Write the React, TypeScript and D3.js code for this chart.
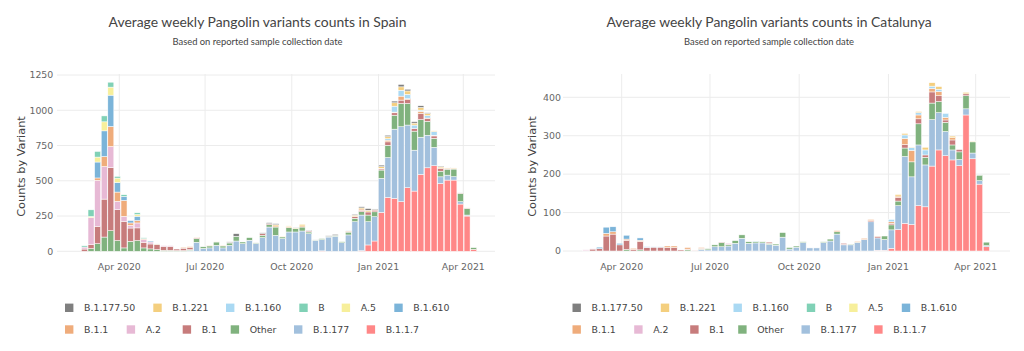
import React from "react";
import * as d3 from "d3";

// ---------- data ----------
const WEEKS = [
  "2020-02-24","2020-03-02","2020-03-09","2020-03-16","2020-03-23","2020-03-30","2020-04-06","2020-04-13","2020-04-20","2020-04-27",
  "2020-05-04","2020-05-11","2020-05-18","2020-05-25","2020-06-01","2020-06-08","2020-06-15","2020-06-22","2020-06-29","2020-07-06",
  "2020-07-13","2020-07-20","2020-07-27","2020-08-03","2020-08-10","2020-08-17","2020-08-24","2020-08-31","2020-09-07","2020-09-14",
  "2020-09-21","2020-09-28","2020-10-05","2020-10-12","2020-10-19","2020-10-26","2020-11-02","2020-11-09","2020-11-16","2020-11-23",
  "2020-11-30","2020-12-07","2020-12-14","2020-12-21","2020-12-28","2021-01-04","2021-01-11","2021-01-18","2021-01-25","2021-02-01",
  "2021-02-08","2021-02-15","2021-02-22","2021-03-01","2021-03-08","2021-03-15","2021-03-22","2021-03-29","2021-04-05","2021-04-12",
];

// stacking order (bottom -> top)
const VARIANTS = ["B.1.1.7","B.1.177","Other","B.1","A.2","B.1.1","B.1.610","A.5","B","B.1.160","B.1.221","B.1.177.50"];
const VARIANT_COLORS = ["#ff8787","#a2c0dd","#80b27e","#c77c7c","#e7b9d5","#efac7b","#7bb4d9","#f7ef9b","#80d1b6","#aad9f3","#f4cf7f","#7f7f7f"];

const LEGEND_ROW1 = ["B.1.177.50","B.1.221","B.1.160","B","A.5","B.1.610"];
const LEGEND_ROW2 = ["B.1.1","A.2","B.1","Other","B.1.177","B.1.1.7"];

const X_TICKS = ["2020-04-01","2020-07-01","2020-10-01","2021-01-01","2021-04-01"];
const ES_Y_TICKS = [0,250,500,750,1000,1250];
const CA_Y_TICKS = [0,100,200,300,400];

// Spain
const ES_B117 = [0,0,0,0,0,0,0,0,0,0, 0,0,0,0,0,0,0,0,0,0, 0,0,0,0,0,0,0,0,0,0, 0,0,0,0,0,0,3,0,0,0, 0,0,4,45,73,276,382,375,352,451, 427,545,592,607,481,505,505,335,250,14];
const ES_B1177 = [0,0,0,0,0,0,0,0,0,0, 0,0,0,0,0,0,6,64,20,24, 42,24,42,73,54,78,54,97,172,113, 90,137,137,144,125,78,80,101,106,61, 116,210,253,165,172,241,283,491,531,444, 290,264,231,130,47,35,24,17,7,0];
const ES_OTHER = [0,19,54,101,146,76,24,71,76,24, 17,12,7,7,5,5,6,26,12,14, 24,14,17,33,12,19,5,17,17,59, 12,31,24,28,12,3,7,5,7,7, 20,24,24,47,35,59,87,99,165,153, 135,125,99,64,40,42,54,59,47,12];
const ES_B1 = [16,28,123,269,448,219,189,94,90,40, 35,38,28,28,11,17,14,5,0,0, 0,0,4,0,0,0,0,12,7,0, 0,0,0,0,7,0,0,0,0,0, 5,12,9,22,12,8,24,17,24,28, 19,42,19,17,19,5,4,3,3,0];
const ES_A2 = [14,191,326,231,149,59,35,19,35,20, 14,0,5,5,0,0,0,0,0,0, 0,0,0,0,0,0,0,0,0,0, 0,0,0,0,0,0,0,0,0,0, 0,0,0,0,0,0,0,0,0,0, 0,0,0,0,0,0,0,0,0,0];
const ES_B11 = [0,0,17,71,142,66,113,17,17,6, 0,0,0,0,0,6,7,5,0,5, 2,5,0,0,0,0,0,0,0,8, 0,6,0,8,0,0,0,0,0,0, 4,0,10,0,0,5,12,5,28,6, 0,17,4,5,5,0,0,0,0,0];
const ES_B1610 = [0,0,113,182,222,68,28,17,31,0, 7,0,0,0,0,0,0,0,0,0, 0,0,0,0,0,0,0,0,0,0, 0,0,0,0,0,0,0,0,0,0, 0,0,0,0,0,0,0,0,0,0, 0,0,0,0,0,0,0,0,0,0];
const ES_A5 = [0,9,35,64,57,31,0,0,12,0, 0,3,0,0,0,0,0,0,0,0, 0,0,0,0,0,0,0,0,0,0, 0,0,0,0,0,0,0,0,0,0, 0,0,0,0,0,0,0,0,0,0, 0,0,0,0,0,0,0,0,0,0];
const ES_B = [9,47,40,42,35,12,12,0,12,6, 0,4,0,0,0,0,0,0,0,0, 0,0,0,0,0,0,0,0,0,0, 0,0,0,0,0,0,0,0,0,0, 0,0,0,0,0,0,0,0,0,0, 0,0,0,0,0,0,0,0,0,0];
const ES_B1160 = [0,0,0,0,0,0,0,0,0,0, 0,0,0,0,0,0,0,0,0,0, 0,0,0,0,0,0,0,0,0,0, 0,0,0,0,0,0,0,0,0,0, 5,0,0,0,0,0,10,42,42,31, 24,8,17,26,0,0,0,0,0,0];
const ES_B1221 = [0,0,0,0,0,0,0,0,0,0, 0,0,0,0,0,0,0,0,0,0, 0,0,0,0,0,0,0,0,0,9, 5,6,4,11,0,0,0,0,0,0, 0,10,8,12,4,12,15,24,24,24, 14,19,15,5,8,5,5,0,2,0];
const ES_B117750 = [0,0,0,0,0,0,0,0,0,0, 0,0,0,0,0,0,0,0,0,0, 0,0,4,19,0,0,2,5,7,7, 0,0,3,0,5,3,0,4,7,0, 0,6,8,12,4,10,10,12,17,12, 10,12,5,0,4,3,3,2,0,0];

// Catalunya
const CA_B117 = [0,0,0,0,0,0,0,0,0,0, 0,0,0,0,0,0,0,0,0,0, 0,0,0,0,0,0,0,0,0,0, 0,0,0,0,0,0,0,0,0,0, 0,0,0,2,2,7,56,72,69,118, 115,221,263,248,237,222,354,240,174,11];
const CA_B1177 = [0,0,0,0,0,0,0,0,0,0, 0,0,0,0,0,0,0,4,3,11, 11,13,20,33,20,21,21,17,15,36, 5,10,22,8,8,22,26,44,16,16, 22,30,76,32,28,48,62,174,124,158, 109,121,97,63,26,16,16,15,9,3];
const CA_OTHER = [0,0,0,0,0,0,4,0,3,0, 0,0,0,0,0,3,0,1,3,5, 11,4,7,9,4,4,3,3,3,12, 4,3,2,0,0,2,5,6,1,2, 1,0,0,0,9,13,12,22,39,55, 20,43,29,24,13,20,34,29,14,9];
const CA_B1 = [1,5,6,39,44,16,24,4,22,9, 10,10,9,9,3,2,1,2,0,0, 1,0,0,0,0,0,0,3,0,0, 0,0,0,0,0,0,0,0,3,0, 0,0,3,4,0,4,9,9,0,13, 6,29,15,6,13,6,5,0,0,0];
const CA_A2 = [2,1,0,0,0,0,0,0,0,1, 0,0,0,0,0,0,0,0,0,0, 0,3,0,0,0,0,0,0,0,0, 0,0,0,0,0,0,0,0,0,0, 0,0,0,0,0,0,0,0,0,0, 0,0,0,0,0,0,0,0,0,0];
const CA_B11 = [0,0,0,7,6,0,3,3,3,0, 0,0,4,4,0,4,0,2,0,0, 0,0,0,0,0,0,0,0,0,0, 0,0,0,0,0,0,0,3,0,0, 2,3,3,1,0,4,4,16,30,10, 0,9,11,7,6,0,0,0,0,0];
const CA_B1610 = [0,0,4,16,13,4,10,0,6,1, 0,0,0,0,0,0,0,0,0,0, 0,0,0,0,0,0,0,0,0,0, 0,0,0,0,0,0,0,0,0,0, 0,0,0,0,0,0,0,0,0,0, 0,0,0,0,0,0,0,0,0,0];
const CA_A5 = [0,0,0,0,0,0,0,0,0,0, 0,0,0,0,0,0,0,0,0,0, 0,0,0,0,0,0,0,0,0,0, 0,0,0,0,0,0,0,0,0,0, 0,0,0,0,0,0,0,0,0,0, 0,0,0,0,0,0,0,0,0,0];
const CA_B = [0,0,0,0,0,0,0,0,0,0, 0,0,0,0,0,0,0,0,0,0, 0,0,0,0,0,0,0,0,0,0, 0,0,0,0,0,0,0,0,0,0, 0,0,0,0,0,0,0,0,0,0, 0,0,0,0,0,0,0,0,0,0];
const CA_B1160 = [0,0,0,0,0,0,0,0,0,0, 1,1,0,0,1,0,0,0,0,0, 0,0,0,0,0,1,0,0,0,0, 0,0,0,0,0,0,0,0,0,0, 0,0,0,0,0,6,0,9,7,6, 13,6,6,10,0,0,0,0,0,0];
const CA_B1221 = [0,0,0,0,0,0,0,0,0,0, 0,0,0,0,0,0,0,0,0,0, 0,0,0,0,0,0,0,0,0,0, 0,0,0,0,0,0,0,0,0,0, 0,0,0,0,0,0,4,4,1,3, 7,9,7,0,4,0,4,2,0,0];
const CA_B117750 = [0,0,0,0,0,0,0,0,0,0, 0,0,0,0,0,0,0,0,0,0, 0,0,0,0,0,0,0,0,0,0, 0,0,0,0,0,0,0,0,0,0, 0,0,0,0,0,0,0,0,0,0, 0,0,0,0,0,0,0,0,0,0];

const ES_SERIES = [ES_B117, ES_B1177, ES_OTHER, ES_B1, ES_A2, ES_B11, ES_B1610, ES_A5, ES_B, ES_B1160, ES_B1221, ES_B117750];
const CA_SERIES = [CA_B117, CA_B1177, CA_OTHER, CA_B1, CA_A2, CA_B11, CA_B1610, CA_A5, CA_B, CA_B1160, CA_B1221, CA_B117750];

// ---------- layout ----------
const parse = d3.utcParse("%Y-%m-%d");
const fmt = d3.utcFormat("%b %Y");
const TICK_FONT = "'DejaVu Sans', Verdana, sans-serif";
const TITLE_FONT = "Lato, 'Open Sans', sans-serif";
const ROW1_OFF = [0, 88.3, 161, 234.3, 276.7, 329.3];
const ROW2_OFF = [0, 61.7, 117.7, 165.7, 229, 301.7];

type PanelCfg = {
  title: string;
  series: number[][];
  yTicks: number[];
  yMax: number;
  xRange: [number, number];
  plotL: number;
  plotR: number;
  y0: number;
  yTop: number;
  yTickX: number;
  yTitleX: number;
  center: number;
  legendX: number;
};

function Panel({ cfg }: { cfg: PanelCfg }) {
  const x = d3.scaleUtc().domain([parse(X_TICKS[0])!, parse(X_TICKS[4])!]).range(cfg.xRange);
  const y = d3.scaleLinear().domain([0, cfg.yMax]).range([cfg.y0, cfg.yTop]);
  const table = WEEKS.map((w, i) => {
    const row: any = { date: parse(w) };
    VARIANTS.forEach((v, j) => (row[v] = cfg.series[j][i]));
    return row;
  });
  const stacked = d3.stack().keys(VARIANTS)(table);
  const halfW = (d: Date) => (x(d3.utcDay.offset(d, 7)) - x(d)) * 0.5;
  const plotTop = 74;
  return (
    <g>
      <text x={cfg.center} y={26.7} textAnchor="middle" fontFamily={TITLE_FONT} fontSize={13.9} fill="#444">{cfg.title}</text>
      <text x={cfg.center} y={45} textAnchor="middle" fontFamily={TITLE_FONT} fontSize={9.4} fill="#444">Based on reported sample collection date</text>
      {cfg.yTicks.map((t) => (
        <g key={"y" + t}>
          <line x1={cfg.plotL} x2={cfg.plotR} y1={y(t)} y2={y(t)} stroke="#ececec" strokeWidth={1} />
          <text x={cfg.yTickX} y={y(t)} dy="0.35em" textAnchor="end" fontFamily={TICK_FONT} fontSize={9.4} fill="#666">{t}</text>
        </g>
      ))}
      {X_TICKS.map((t) => {
        const d = parse(t)!;
        return (
          <g key={"x" + t}>
            <line x1={x(d)} x2={x(d)} y1={plotTop} y2={cfg.y0} stroke="#ececec" strokeWidth={1} />
            <text x={x(d)} y={266.7} dy="0.35em" textAnchor="middle" fontFamily={TICK_FONT} fontSize={9.4} fill="#666">{fmt(d)}</text>
          </g>
        );
      })}
      {stacked.map((layer, j) => (
        <g key={VARIANTS[j]} fill={VARIANT_COLORS[j]}>
          {layer.map((seg: any, i: number) => {
            const d = seg.data.date as Date;
            const h = y(seg[0]) - y(seg[1]);
            if (h <= 0) return null;
            const hw = halfW(d);
            return (
              <rect key={i} x={x(d) - hw + 0.3} width={2 * hw - 0.6} y={y(seg[1])} height={h} stroke="#fff" strokeWidth={0.5} />
            );
          })}
        </g>
      ))}
      <text transform={`translate(${cfg.yTitleX},166.5) rotate(-90)`} textAnchor="middle" dy="0.35em" fontFamily={TICK_FONT} fontSize={11.3} fill="#444">Counts by Variant</text>
      {[LEGEND_ROW1, LEGEND_ROW2].map((row, r) =>
        row.map((name, k) => {
          const off = (r === 0 ? ROW1_OFF : ROW2_OFF)[k];
          const cy = r === 0 ? 307.8 : 329.5;
          const c = VARIANT_COLORS[VARIANTS.indexOf(name)];
          return (
            <g key={name}>
              <rect x={cfg.legendX + off} y={cy - 4.2} width={8.4} height={8.4} fill={c} />
              <text x={cfg.legendX + off + 19} y={cy} dy="0.35em" fontFamily={TICK_FONT} fontSize={9.4} fill="#444">{name}</text>
            </g>
          );
        })
      )}
    </g>
  );
}

export default function App() {
  const left: PanelCfg = {
    title: "Average weekly Pangolin variants counts in Spain",
    series: ES_SERIES,
    yTicks: ES_Y_TICKS,
    yMax: 1250,
    xRange: [119.3, 463.3],
    plotL: 57,
    plotR: 495,
    y0: 251.3,
    yTop: 75,
    yTickX: 53.3,
    yTitleX: 20.7,
    center: 257.5,
    legendX: 65,
  };
  const right: PanelCfg = {
    title: "Average weekly Pangolin variants counts in Catalunya",
    series: CA_SERIES,
    yTicks: CA_Y_TICKS,
    yMax: 400,
    xRange: [621.7, 975.7],
    plotL: 563,
    plotR: 1010,
    y0: 251,
    yTop: 97.3,
    yTickX: 561,
    yTitleX: 532.3,
    center: 769,
    legendX: 572.5,
  };
  return (
    <svg width={1024} height={351} style={{ position: "absolute", left: 0, top: 0, background: "#fff" }}>
      <Panel cfg={left} />
      <Panel cfg={right} />
    </svg>
  );
}
